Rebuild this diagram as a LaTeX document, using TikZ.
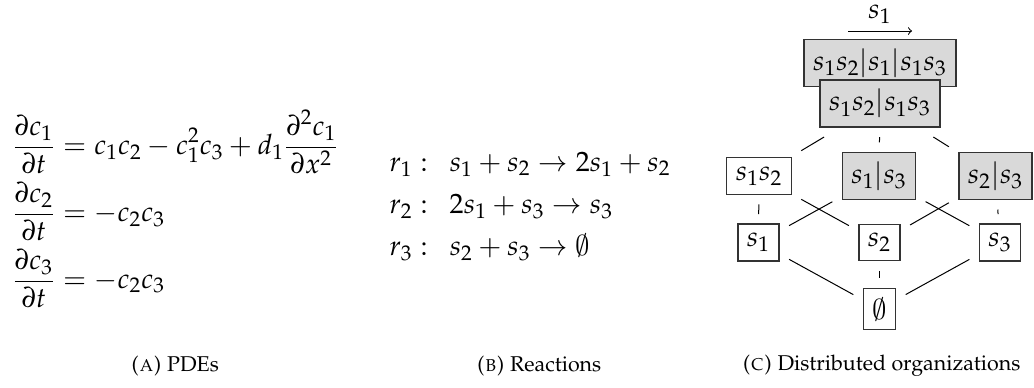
\documentclass[tikz,border=0pt]{standalone}
\usepackage[T1]{fontenc}
\usepackage{mathpazo}
\usepackage{amsmath}
\DeclareSymbolFont{cmsyfont}{OMS}{cmsy}{m}{n}
\DeclareMathSymbol{\cmemptyset}{\mathord}{cmsyfont}{"3B}

\begin{document}
\begin{tikzpicture}[x=0.5pt,y=-0.5pt,every node/.style={font=\fontsize{14}{17.4}\selectfont},org/.style={draw=black!80,line width=0.7pt,inner sep=4.5pt,outer sep=5pt},dorg/.style={org,fill=gray!30},lnk/.style={line width=0.5pt},subcap/.style={font=\fontsize{10.7}{13}\selectfont}]
\useasboundingbox (0,0) rectangle (1034,387);
% (a) the PDEs
\node (pde) at (175.5,209) {$\begin{aligned}\dfrac{\partial c_1}{\partial t}&=c_1c_2-c_1^2c_3+d_1\dfrac{\partial^2 c_1}{\partial x^2}\\ \dfrac{\partial c_2}{\partial t}&=-c_2c_3\\ \dfrac{\partial c_3}{\partial t}&=-c_2c_3\end{aligned}$};
% (b) the reactions
\node (rct) at (530,205) {\def\arraystretch{1.22}$\begin{array}{@{}l@{}}r_1:\enspace s_1+s_2\to 2s_1+s_2\\ r_2:\enspace 2s_1+s_3\to s_3\\ r_3:\enspace s_2+s_3\to\cmemptyset\end{array}$};
% (c) lattice of organizations
\node (lbl) at (880,14) {$s_1$};
\coordinate (arl) at (848,31);\coordinate (arr) at (912,31);
\draw[->,lnk] (arl)--(arr);
\node[dorg] (o123) at (880,63) {$s_1s_2|s_1|s_1s_3$};
\node[dorg] (o12x13) at (880,103.5) {$s_1s_2|s_1s_3$};
\node[org] (o12) at (759,176) {$s_1s_2$};\node[dorg] (o1x3) at (879,176) {$s_1|s_3$};\node[dorg] (o2x3) at (995.5,176) {$s_2|s_3$};
\node[org] (o1) at (758.5,242.5) {$s_1$};\node[org] (o2) at (879.5,242.5) {$s_2$};\node[org] (o3) at (1000,242.5) {$s_3$};
\node[org] (o0) at (879.5,309) {$\cmemptyset$};
\foreach \a/\b in {o12x13/o12,o12x13/o1x3,o12x13/o2x3,o12/o1,o12/o2,o1x3/o1,o1x3/o3,o2x3/o2,o2x3/o3,o1/o0,o2/o0,o3/o0} \draw[lnk] (\a)--(\b);
% captions
\node[subcap] (capa) at (175,366) {\textsc{(a)} PDEs};
\node[subcap] (capb) at (539,366) {\textsc{(b)} Reactions};
\node[subcap] (capc) at (881.5,366) {\textsc{(c)} Distributed organizations};
\end{tikzpicture}
\end{document}
